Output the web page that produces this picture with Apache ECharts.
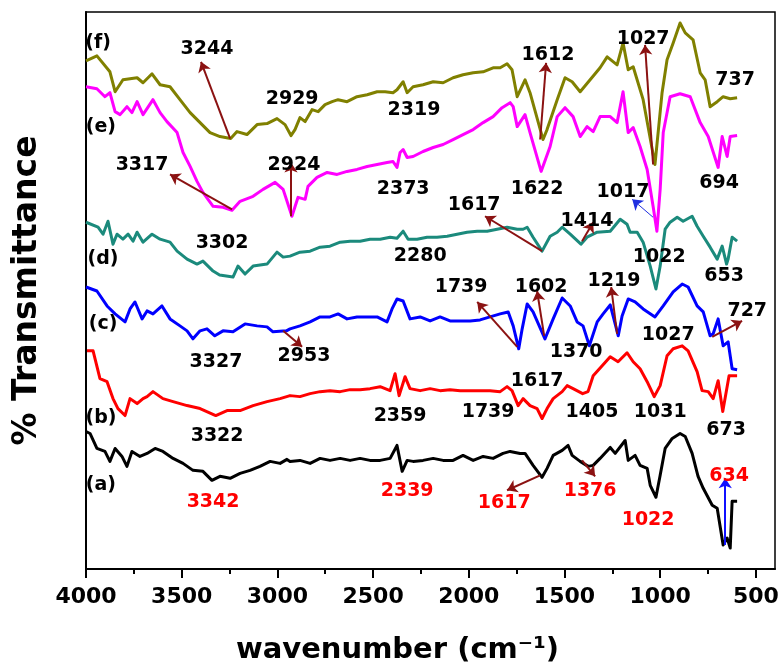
<!DOCTYPE html>
<html>
<head>
<meta charset="utf-8">
<script src="https://cdn.jsdelivr.net/npm/echarts@6/dist/echarts.min.js"></script>
<style>
  html, body { margin: 0; padding: 0; background: #fff; }
  #chart { width: 783px; height: 670px; }
</style>
</head>
<body>
<div id="chart"></div>
<script>
// Wavenumber axis ticks (cm-1)
const xTicks = [4000, 3500, 3000, 2500, 2000, 1500, 1000, 500];
const xMinorTicks = [3750, 3250, 2750, 2250, 1750, 1250, 750];

// FTIR spectra, [wavenumber, transmittance (offset, arb. units)]
const spectrumF = [[4000,51.0],[3943,51.5],[3875,49.9],[3848,47.9],[3807,49.1],[3733,49.3],[3702,48.8],[3655,49.7],[3613,48.6],[3561,48.4],[3509,47.1],[3456,45.8],[3404,44.8],[3352,43.8],[3300,43.4],[3244,43.2],[3211,43.9],[3159,43.6],[3106,44.6],[3054,44.7],[3002,45.2],[2960,44.6],[2929,43.5],[2908,44.1],[2882,45.3],[2855,44.9],[2819,46.1],[2787,45.9],[2751,46.6],[2714,46.9],[2683,47.1],[2636,46.9],[2584,47.4],[2531,47.6],[2479,47.9],[2437,47.9],[2396,47.8],[2375,48.1],[2343,48.9],[2322,47.8],[2291,48.4],[2239,48.6],[2186,48.9],[2134,48.8],[2082,49.3],[2030,49.6],[1977,49.8],[1925,49.9],[1873,50.3],[1836,50.3],[1800,50.7],[1774,50.1],[1747,47.4],[1706,49.1],[1680,47.8],[1612,43.1],[1591,44.1],[1538,47.1],[1497,49.3],[1460,48.9],[1418,47.9],[1366,49.1],[1314,50.3],[1277,51.4],[1225,50.6],[1194,52.8],[1167,50.1],[1141,50.4],[1089,47.1],[1027,40.6],[990,47.8],[964,51.1],[932,52.8],[896,54.8],[869,53.8],[828,53.1],[791,49.8],[765,49.1],[739,46.4],[702,46.9],[671,47.4],[634,47.2],[598,47.3]];

const spectrumE = [[4000,48.4],[3943,48.2],[3901,47.4],[3875,47.8],[3848,45.9],[3822,45.6],[3786,46.4],[3760,45.8],[3733,46.9],[3702,45.6],[3650,47.1],[3613,45.8],[3577,44.9],[3524,43.8],[3493,41.8],[3456,40.4],[3420,38.9],[3389,37.8],[3336,36.4],[3284,36.3],[3237,36.0],[3195,36.9],[3127,37.4],[3075,38.1],[3012,38.8],[2970,38.1],[2924,35.4],[2892,37.3],[2855,37.1],[2840,38.4],[2793,39.3],[2740,39.8],[2688,39.6],[2636,39.9],[2584,40.1],[2531,40.4],[2479,40.6],[2427,40.8],[2396,40.9],[2375,40.3],[2359,41.8],[2343,42.1],[2322,41.3],[2291,41.4],[2239,41.9],[2186,42.3],[2134,42.6],[2082,43.1],[2030,43.6],[1977,44.1],[1925,44.8],[1873,45.4],[1826,46.3],[1784,46.8],[1768,46.4],[1747,44.4],[1706,45.6],[1680,43.8],[1622,39.9],[1575,42.4],[1538,45.4],[1497,46.3],[1455,45.4],[1418,43.4],[1382,44.4],[1350,43.9],[1314,45.4],[1261,45.4],[1225,44.8],[1194,47.9],[1167,43.8],[1141,44.3],[1105,42.4],[1068,40.1],[1037,36.4],[1017,33.9],[1000,38.1],[984,43.8],[948,47.4],[896,47.7],[843,47.4],[791,44.8],[749,43.4],[697,40.3],[676,43.4],[650,41.4],[634,43.4],[598,43.5]];

const spectrumD = [[4000,34.8],[3937,34.3],[3911,33.6],[3885,34.9],[3859,32.6],[3838,33.6],[3807,33.1],[3780,33.6],[3754,32.9],[3733,33.8],[3702,32.8],[3655,33.6],[3613,33.1],[3561,32.8],[3524,31.9],[3472,31.1],[3420,30.6],[3389,30.9],[3336,29.9],[3302,29.5],[3232,29.3],[3206,30.4],[3169,29.6],[3127,30.4],[3054,30.6],[3002,31.8],[2970,31.3],[2934,31.4],[2882,31.8],[2829,31.9],[2777,32.3],[2725,32.4],[2672,32.8],[2620,32.9],[2568,32.9],[2516,33.1],[2463,33.1],[2411,33.3],[2375,33.2],[2343,33.9],[2317,33.1],[2270,33.1],[2218,33.3],[2166,33.3],[2113,33.4],[2061,33.6],[2009,33.8],[1956,33.9],[1904,33.9],[1852,34.1],[1800,34.3],[1747,34.1],[1716,34.1],[1695,34.3],[1664,33.3],[1617,31.9],[1575,33.4],[1538,33.8],[1512,34.3],[1470,33.6],[1414,32.6],[1382,33.3],[1329,33.8],[1261,33.9],[1209,35.1],[1173,34.6],[1157,33.8],[1120,33.8],[1089,32.8],[1052,30.4],[1022,28.1],[1000,30.4],[974,34.1],[948,34.8],[911,35.3],[880,34.9],[833,35.4],[807,34.4],[775,33.4],[739,32.3],[702,31.1],[676,32.4],[653,30.6],[645,31.1],[624,33.3],[598,32.9]];

const spectrumC = [[4000,28.3],[3943,27.9],[3890,26.4],[3848,25.6],[3796,24.8],[3770,26.1],[3744,26.8],[3707,25.1],[3681,25.9],[3650,25.6],[3603,26.4],[3561,25.1],[3509,24.4],[3472,23.9],[3441,23.1],[3404,23.9],[3368,24.1],[3327,23.4],[3284,23.9],[3232,23.8],[3169,24.6],[3106,24.4],[3054,24.3],[3023,23.8],[2953,23.9],[2934,24.1],[2882,24.4],[2829,24.8],[2777,25.3],[2725,25.3],[2683,25.6],[2636,25.1],[2584,25.3],[2531,25.3],[2479,25.3],[2427,24.8],[2401,26.1],[2375,27.1],[2343,26.9],[2307,25.1],[2254,25.3],[2202,24.9],[2150,25.3],[2098,24.9],[2045,24.9],[1993,24.9],[1941,25.0],[1889,25.3],[1836,25.6],[1794,25.8],[1768,24.4],[1739,22.1],[1721,24.1],[1695,26.6],[1664,25.8],[1602,23.1],[1559,25.1],[1512,27.2],[1470,26.4],[1434,24.8],[1403,24.4],[1370,22.4],[1329,24.8],[1298,25.6],[1261,26.5],[1246,25.4],[1219,23.4],[1199,25.4],[1167,27.1],[1131,26.8],[1089,26.1],[1027,25.3],[984,26.4],[932,27.8],[885,28.6],[854,28.3],[807,26.4],[775,25.8],[739,23.4],[723,23.6],[697,25.1],[671,22.4],[645,22.8],[624,20.1],[598,20.0]];

const spectrumB = [[3995,21.9],[3963,21.9],[3927,19.1],[3890,18.8],[3859,17.1],[3833,16.1],[3796,15.4],[3770,17.1],[3733,16.6],[3702,17.1],[3681,17.3],[3650,17.8],[3598,17.1],[3545,16.8],[3472,16.4],[3404,16.1],[3322,15.4],[3263,15.9],[3195,15.9],[3127,16.4],[3054,16.8],[2986,17.1],[2934,17.4],[2882,17.3],[2829,17.6],[2777,17.8],[2725,17.9],[2672,17.8],[2620,18.0],[2568,18.0],[2516,18.1],[2463,18.3],[2411,17.9],[2385,19.6],[2364,17.4],[2333,19.3],[2307,18.1],[2254,17.9],[2202,18.1],[2150,17.9],[2098,18.0],[2045,17.9],[1993,17.9],[1941,17.9],[1889,17.9],[1836,17.8],[1800,18.3],[1774,17.9],[1742,16.4],[1716,17.1],[1680,16.4],[1643,16.1],[1617,15.1],[1591,16.1],[1559,17.1],[1512,17.8],[1486,18.4],[1455,18.1],[1405,17.6],[1377,17.8],[1350,19.4],[1303,20.4],[1261,21.3],[1220,20.8],[1173,21.7],[1141,20.8],[1105,20.1],[1068,18.8],[1031,17.3],[1000,18.4],[964,21.4],[932,22.1],[885,22.4],[854,21.9],[807,19.8],[781,17.9],[749,17.8],[723,17.1],[697,18.9],[673,15.8],[640,19.4],[598,19.4]];

const spectrumA = [[4000,13.8],[3979,13.6],[3943,12.1],[3901,11.8],[3875,10.8],[3848,12.1],[3812,11.3],[3786,10.3],[3760,11.8],[3718,11.3],[3681,11.6],[3639,12.1],[3598,11.8],[3545,11.1],[3493,10.6],[3441,9.9],[3389,9.8],[3342,8.9],[3300,9.3],[3247,9.1],[3195,9.6],[3143,9.9],[3091,10.3],[3038,10.8],[2986,10.6],[2950,11.0],[2934,10.8],[2882,10.9],[2829,10.6],[2777,11.1],[2725,10.9],[2672,11.1],[2620,10.9],[2568,11.1],[2516,10.9],[2463,10.9],[2411,11.1],[2375,12.4],[2348,9.8],[2322,10.9],[2291,10.8],[2239,10.9],[2186,11.1],[2134,10.9],[2082,10.9],[2030,11.4],[1977,10.9],[1925,11.3],[1873,11.1],[1821,11.6],[1784,11.8],[1732,11.6],[1706,11.6],[1664,10.4],[1617,9.2],[1591,10.1],[1559,11.4],[1512,11.9],[1481,12.4],[1460,11.4],[1418,10.8],[1376,10.3],[1350,10.4],[1314,11.1],[1261,12.2],[1235,11.6],[1183,12.9],[1167,10.9],[1131,11.4],[1105,10.4],[1068,10.1],[1052,8.4],[1022,7.2],[1000,9.4],[974,12.1],[937,13.1],[896,13.6],[869,13.3],[833,11.6],[802,9.3],[775,8.1],[728,6.4],[702,6.1],[671,2.4],[650,3.1],[634,2.1],[624,6.8],[598,6.8]];

// Peak annotations: [text, wavenumber, transmittance, colour]
const peakLabels = [
  ['(f)', 3937, 52.8, '#000'], ['3244', 3368, 52.2, '#000'], ['2929', 2923, 47.2, '#000'],
  ['2319', 2286, 46.1, '#000'], ['1612', 1586, 51.6, '#000'], ['1027', 1089, 53.2, '#000'],
  ['737', 608, 49.1, '#000'],
  ['(e)', 3922, 44.4, '#000'], ['3317', 3707, 40.5, '#000'], ['2924', 2913, 40.5, '#000'],
  ['2373', 2343, 38.1, '#000'], ['1622', 1643, 38.1, '#000'], ['1017', 1194, 37.8, '#000'],
  ['694', 692, 38.7, '#000'],
  ['(d)', 3911, 31.1, '#000'], ['3302', 3289, 32.7, '#000'], ['2280', 2254, 31.4, '#000'],
  ['1617', 1972, 36.5, '#000'], ['1414', 1382, 34.9, '#000'], ['1022', 1005, 31.3, '#000'],
  ['653', 666, 29.4, '#000'],
  ['(c)', 3911, 24.6, '#000'], ['3327', 3321, 20.8, '#000'], ['2953', 2861, 21.4, '#000'],
  ['1739', 2040, 28.3, '#000'], ['1602', 1622, 28.3, '#000'], ['1219', 1241, 28.9, '#000'],
  ['727', 545, 25.9, '#000'], ['1027', 958, 23.5, '#000'], ['1370', 1439, 21.8, '#000'],
  ['(b)', 3922, 15.1, '#000'], ['3322', 3315, 13.3, '#000'], ['2359', 2359, 15.3, '#000'],
  ['1617', 1643, 18.9, '#000'], ['1739', 1899, 15.8, '#000'], ['1405', 1356, 15.8, '#000'],
  ['1031', 1000, 15.8, '#000'], ['673', 655, 13.9, '#000'],
  ['(a)', 3922, 8.4, '#000'], ['3342', 3336, 6.7, '#f00'], ['2339', 2322, 7.8, '#f00'],
  ['1617', 1815, 6.6, '#f00'], ['1376', 1366, 7.8, '#f00'], ['1022', 1063, 4.9, '#f00'],
  ['634', 640, 9.3, '#f00']
];

// Pointer arrows: [fromWn, fromT, toWn, toT, colour, width]
const arrowRed = '#8b1212';
const peakArrows = [
  [3247, 43.2, 3399, 50.9, arrowRed, 2],
  [3237, 36.1, 3561, 39.6, arrowRed, 2],
  [2929, 35.4, 2929, 40.8, arrowRed, 2],
  [1627, 43.1, 1596, 50.8, arrowRed, 2],
  [1037, 40.6, 1079, 52.6, arrowRed, 2],
  [1037, 35.3, 1146, 37.1, '#1f2fe0', 1],
  [1617, 31.9, 1915, 35.4, arrowRed, 2],
  [1408, 32.9, 1350, 34.8, arrowRed, 2],
  [1747, 22.3, 1956, 26.8, arrowRed, 2],
  [1606, 23.4, 1643, 27.9, arrowRed, 2],
  [1225, 23.6, 1256, 28.3, arrowRed, 2],
  [728, 23.3, 572, 24.9, arrowRed, 2],
  [2970, 23.9, 2871, 22.3, arrowRed, 2],
  [1627, 9.4, 1800, 7.9, arrowRed, 2],
  [1408, 10.9, 1340, 9.3, arrowRed, 2],
  [660, 2.4, 660, 9.1, '#1010ff', 2]
];

const font = 'DejaVu Sans';

function spectrum(name, data, color) {
  return {
    name, type: 'line', data, showSymbol: false, smooth: false,
    lineStyle: { color, width: 3, join: 'round' }, itemStyle: { color },
    silent: true, z: 3
  };
}

const chart = echarts.init(document.getElementById('chart'), null, { renderer: 'canvas' });

chart.setOption({
  animation: false,
  backgroundColor: '#fff',
  grid: { left: 86, right: 8, top: 12, bottom: 99, show: true, borderColor: '#000', borderWidth: 1.5 },
  xAxis: [
    {
      type: 'value', inverse: true, min: 400, max: 4000,
      axisLine: { show: true, lineStyle: { color: '#000', width: 2 } },
      axisTick: { show: true, customValues: xTicks, length: 9, inside: false, lineStyle: { color: '#000', width: 2 } },
      axisLabel: { customValues: xTicks, formatter: v => String(v), margin: 17, fontSize: 22,
                   fontWeight: 'bold', fontFamily: font, color: '#000' },
      splitLine: { show: false },
      name: 'wavenumber (cm\u207B\u00B9)', nameLocation: 'middle', nameGap: 67,
      nameTextStyle: { fontSize: 29, fontWeight: 'bold', fontFamily: font, color: '#000', padding: [0, 66, 0, 0] }
    },
    {
      type: 'value', inverse: true, min: 400, max: 4000, position: 'bottom',
      axisLine: { show: false },
      axisTick: { show: true, customValues: xMinorTicks, length: 5, inside: false, lineStyle: { color: '#000', width: 2 } },
      axisLabel: { show: false }, splitLine: { show: false }
    }
  ],
  yAxis: {
    type: 'value', min: 0, max: 55.9,
    axisLine: { show: true, lineStyle: { color: '#000', width: 2 } },
    axisTick: { show: false }, axisLabel: { show: false }, splitLine: { show: false },
    name: '% Transmittance', nameLocation: 'middle', nameGap: 42, nameRotate: 90,
    nameTextStyle: { fontSize: 33, fontWeight: 'bold', fontFamily: font, color: '#000' }
  },
  series: [
    spectrum('(a)', spectrumA, '#000000'),
    spectrum('(b)', spectrumB, '#ff0000'),
    spectrum('(c)', spectrumC, '#0000ff'),
    spectrum('(d)', spectrumD, '#1b8a7c'),
    spectrum('(e)', spectrumE, '#ff00ff'),
    spectrum('(f)', spectrumF, '#808000'),
    {
      name: 'arrows', type: 'line', data: [], silent: true, z: 4,
      markLine: {
        silent: true, animation: false, symbol: ['none', 'arrow'], symbolSize: 10,
        label: { show: false },
        data: peakArrows.map(a => [
          { coord: [a[0], a[1]], lineStyle: { color: a[4], width: a[5], type: 'solid', opacity: 1 }, itemStyle: { color: a[4] } },
          { coord: [a[2], a[3]] }
        ])
      }
    },
    {
      name: 'peak labels', type: 'scatter', symbolSize: 0, silent: true, z: 5,
      itemStyle: { opacity: 1 },
      data: peakLabels.map(p => ({
        value: [p[1], p[2]],
        label: { show: true, position: 'inside', formatter: p[0], color: p[3], opacity: 1,
                 fontSize: 19, fontWeight: 'bold', fontFamily: font }
      }))
    }
  ]
});
</script>
</body>
</html>
